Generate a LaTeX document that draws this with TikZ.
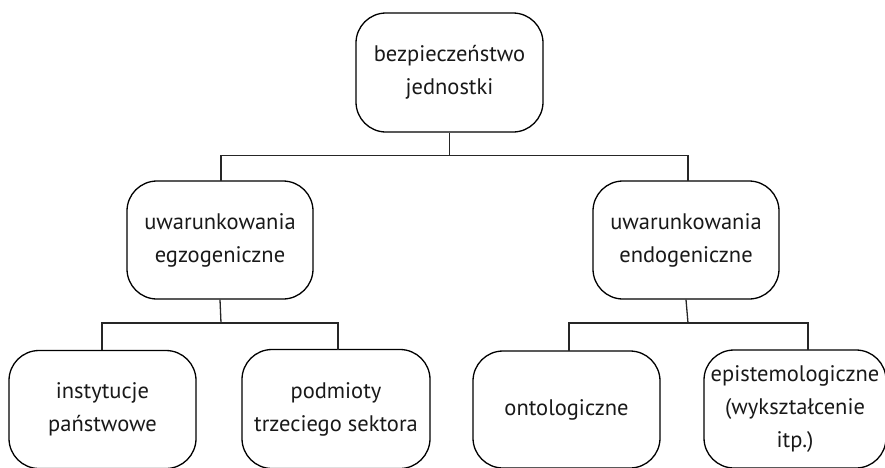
\documentclass[tikz,border=0pt]{standalone}
\usepackage{fontspec}
\setmainfont{PT Sans}
\begin{document}
\begin{tikzpicture}[x=1pt,y=-1pt,
  box/.style={draw=black, line width=1.3pt, rounded corners=30pt, inner sep=0pt, align=center,
    font=\fontsize{22.5}{33}\selectfont, text=black!90},
  link/.style={draw=black!85, line width=1.3pt}]
\useasboundingbox (0,0) rectangle (885,467);
\clip (0,0) rectangle (885,467);
\node[box, minimum width=187pt, minimum height=119pt] (top) at (449.5,72.5) {bezpieczeństwo\\jednostki};
\node[box, minimum width=186pt, minimum height=118pt] (egzo) at (220,240) {uwarunkowania\\egzogeniczne};
\node[box, minimum width=186pt, minimum height=118pt] (endo) at (686,240) {uwarunkowania\\endogeniczne};
\node[box, minimum width=187pt, minimum height=118pt] (inst) at (102.5,409.5) {instytucje\\państwowe};
\node[box, minimum width=188pt, minimum height=119pt] (pod) at (336,409) {podmioty\\trzeciego sektora};
\node[box, minimum width=187pt, minimum height=117pt] (onto) at (566.5,409.5) {ontologiczne};
\node[box, minimum width=182pt, minimum height=118pt] (epi) at (795,409) {epistemologiczne\\(wykształcenie\\itp.)};
\coordinate (j0) at (449.5,155.5);
\coordinate (j1) at (221,323);
\coordinate (j2) at (688,323);
\draw[link] (top.south) -- (j0);
\draw[link] (j0) -| (221,181);
\draw[link] (j0) -| (688,181);
\draw[link] (egzo.south) -- (j1);
\draw[link] (j1) -| (102,349.5);
\draw[link] (j1) -| (338,349.5);
\draw[link] (endo.south) -- (j2);
\draw[link] (j2) -| (569,351);
\draw[link] (j2) -| (808,350);
\end{tikzpicture}
\end{document}
